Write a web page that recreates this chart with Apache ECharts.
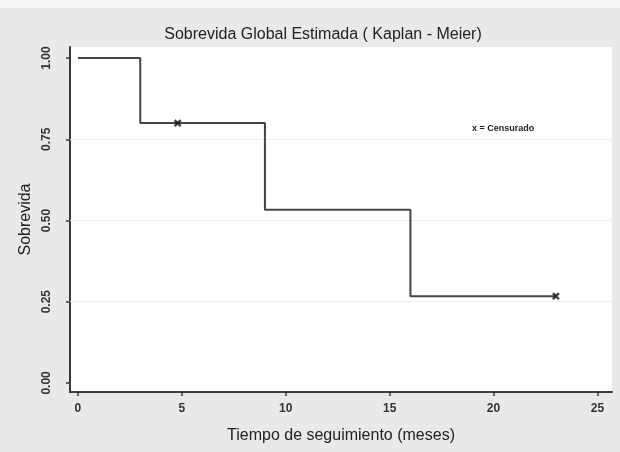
<!DOCTYPE html>
<html>
<head>
<meta charset="utf-8">
<script src="https://cdn.jsdelivr.net/npm/echarts@6/dist/echarts.min.js"></script>
<style>
html,body{margin:0;padding:0;background:#f6f6f6;}
#c{width:620px;height:452px;}
</style>
</head>
<body>
<div id="c"></div>
<script>
// Kaplan-Meier step data
var times = [0, 3, 9, 16, 23];
var survival = [1.0, 0.8, 0.533, 0.267, 0.267];
var censorTimes = [4.8, 23];
var censorSurv = [0.8, 0.267];
var xTicks = [0, 5, 10, 15, 20, 25];
var yTicks = [0, 0.25, 0.5, 0.75, 1.0];
var gridValues = [0.25, 0.5, 0.75];

var chart = echarts.init(document.getElementById('c'));
var font = 'Liberation Sans, Arial, sans-serif';
var axisCol = '#3a3a3a';

chart.setOption({
  backgroundColor: '#e9e9e9',
  animation: false,
  title: {
    text: 'Sobrevida Global Estimada ( Kaplan - Meier)',
    left: 318, top: 22, textAlign: 'center',
    textStyle: {fontFamily: font, fontSize: 16, fontWeight: 'normal', color: '#222'}
  },
  graphic: [
    {type: 'rect', left: 0, top: 0, shape: {width: 620, height: 8}, style: {fill: '#f6f6f6'}, silent: true},
    {type: 'text', left: 472, top: 124,
     style: {text: 'x = Censurado', font: 'bold 9px ' + font, fill: '#222'}}
  ],
  grid: {left: 70, top: 47, right: 8, bottom: 60, show: true, backgroundColor: '#ffffff', borderWidth: 0},
  xAxis: {
    type: 'value', min: -0.38, max: 25.7,
    name: 'Tiempo de seguimiento (meses)', nameLocation: 'middle', nameGap: 36,
    nameTextStyle: {fontFamily: font, fontSize: 16, color: '#222'},
    axisLine: {show: true, onZero: false, lineStyle: {color: axisCol, width: 2}},
    axisTick: {show: true, length: 4, customValues: xTicks, lineStyle: {color: axisCol, width: 1.5}},
    axisLabel: {customValues: xTicks, fontFamily: font, fontSize: 12, fontWeight: 'bold', color: '#333', margin: 11},
    splitLine: {show: false}
  },
  yAxis: {
    type: 'value', min: -0.028, max: 1.034,
    name: 'Sobrevida', nameLocation: 'middle', nameGap: 25,
    nameTextStyle: {fontFamily: font, fontSize: 16, color: '#222'},
    axisLine: {show: true, onZero: false, lineStyle: {color: axisCol, width: 2}},
    axisTick: {show: true, length: 4, customValues: yTicks, lineStyle: {color: axisCol, width: 1.5}},
    axisLabel: {customValues: yTicks, rotate: 90, fontFamily: font, fontSize: 12, fontWeight: 'bold', color: '#333', margin: 17,
      formatter: function (v) { return v.toFixed(2); }},
    splitLine: {show: false}
  },
  series: [
    {
      type: 'line', data: [], silent: true, z: 1,
      markLine: {
        silent: true, symbol: 'none', label: {show: false}, z: 1,
        lineStyle: {color: '#eeeeee', width: 1, type: 'solid'},
        data: gridValues.map(function (v) { return {yAxis: v}; })
      }
    },
    {
      type: 'line', step: 'end', symbol: 'none',
      data: times.map(function (t, i) { return [t, survival[i]]; }),
      lineStyle: {color: '#444', width: 2},
      z: 3
    },
    {
      type: 'scatter',
      data: censorTimes.map(function (t, i) { return [t, censorSurv[i]]; }),
      symbol: 'path://M0,0L10,10M10,0L0,10M0,0L10,10',
      symbolSize: 6,
      itemStyle: {color: '#111', borderColor: '#111', borderWidth: 2.5},
      z: 4
    }
  ]
});
</script>
</body>
</html>
